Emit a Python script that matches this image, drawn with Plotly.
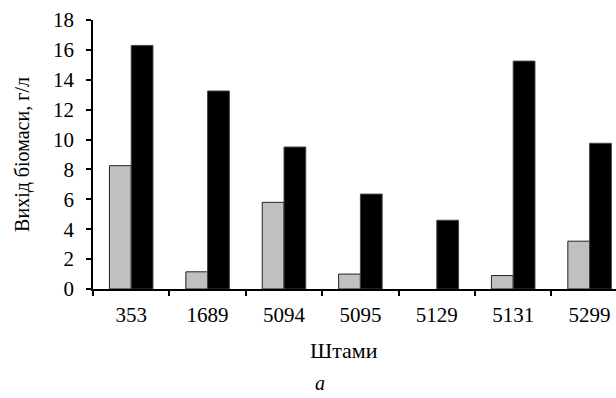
import plotly.graph_objects as go

strains = ["353", "1689", "5094", "5095", "5129", "5131", "5299"]
series_gray = [8.25, 1.15, 5.8, 1.0, 0.0, 0.9, 3.2]
series_black = [16.3, 13.25, 9.5, 6.35, 4.6, 15.25, 9.75]
y_ticks = [0, 2, 4, 6, 8, 10, 12, 14, 16, 18]

W, H = 616, 398
L, T, B = 93, 20, 109
pw = W - L
ph = H - T - B
font = dict(family="Liberation Serif", size=20, color="black")
font_tick = dict(family="Liberation Serif", size=21, color="black")
font_big = dict(family="Liberation Serif", size=22, color="black")

def py(ypix):
    return (H - B - ypix) / ph

gray_line_w = [1 if v > 0 else 0 for v in series_gray]

fig = go.Figure()
fig.add_trace(go.Bar(x=strains, y=series_gray, marker=dict(color="#c0c0c0", line=dict(color="#222222", width=gray_line_w)), showlegend=False, hoverinfo="skip"))
fig.add_trace(go.Bar(x=strains, y=series_black, marker=dict(color="black", line=dict(color="#444444", width=1)), showlegend=False, hoverinfo="skip"))

fig.update_layout(
    width=W, height=H,
    margin=dict(l=L, r=0, t=T, b=B),
    plot_bgcolor="white", paper_bgcolor="white",
    barmode="group", bargap=0.43, bargroupgap=0,
    font=font,
    xaxis=dict(
        type="category", range=[-0.5, -0.5 + pw / 76.4], automargin=False,
        showline=True, linecolor="black", linewidth=1.5,
        ticks="outside", tickson="boundaries", ticklen=5, tickwidth=1.5, tickcolor="black",
        showgrid=False, tickfont=font_tick, ticklabelstandoff=6,
    ),
    yaxis=dict(
        range=[0, 18], tickvals=y_ticks, automargin=False,
        showline=True, linecolor="black", linewidth=1.5,
        ticks="outside", ticklen=5, tickwidth=1.5, tickcolor="black",
        showgrid=False, zeroline=False, tickfont=font_tick, ticklabelstandoff=8,
        title=dict(text="Вихід біомаси, г/л", font=font, standoff=18),
    ),
    annotations=[
        dict(text="Штами", x=(344 - L) / pw, y=py(350), xref="paper", yref="paper",
             showarrow=False, font=font_big, xanchor="center", yanchor="middle"),
        dict(text="<i>а</i>", x=(320 - L) / pw, y=py(383), xref="paper", yref="paper",
             showarrow=False, font=font, xanchor="center", yanchor="middle"),
    ],
)

fig.write_html("out.html", config={"displayModeBar": False},
               post_script="document.body.style.margin='0';document.body.style.padding='0';")
